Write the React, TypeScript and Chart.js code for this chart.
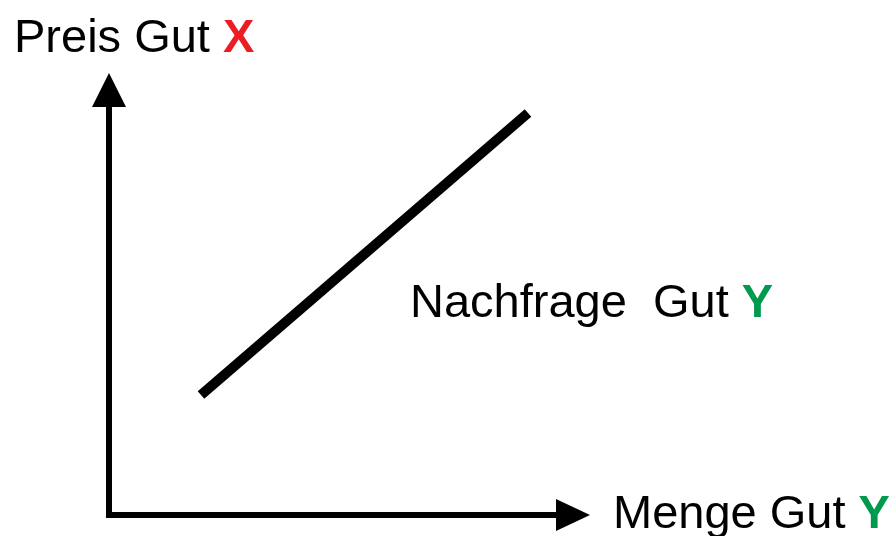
import React, { useEffect, useRef } from "react";
import { Chart, registerables } from "chart.js";

Chart.register(...registerables);

// Demand curve (quantity of good Y vs. price of good X)
const demandQuantity = [9.2, 41.9];
const demandPrice = [12, 40.2];

// Axis extents (value units)
const axisOrigin = [0, 0];
const yAxisTip = 44.2;
const xAxisTip = 48.1;
const arrowLen = 3.4;

// Labels
const yAxisLabel = ["Preis Gut ", "X"];
const xAxisLabel = ["Menge Gut ", "Y"];
const curveLabel = ["Nachfrage  Gut ", "Y"];
const yLabelPos = [-9.5, 46.3];
const xLabelPos = [50.4, -1.3];
const curveLabelPos = [30.1, 19.8];

const RED = "#EC1C24";
const GREEN = "#009A4E";
const FONT = '"Liberation Sans", Arial, sans-serif';

export default function App() {
  const ref = useRef<HTMLCanvasElement>(null);

  useEffect(() => {
    const canvas = ref.current;
    if (!canvas) return;

    const drawLabel = (
      ctx: CanvasRenderingContext2D,
      x: number,
      y: number,
      parts: string[],
      accent: string
    ) => {
      ctx.save();
      ctx.textBaseline = "alphabetic";
      ctx.textAlign = "left";
      ctx.font = `47px ${FONT}`;
      ctx.fillStyle = "#000";
      ctx.fillText(parts[0], x, y);
      const w = ctx.measureText(parts[0]).width;
      ctx.font = `bold 47px ${FONT}`;
      ctx.fillStyle = accent;
      ctx.fillText(parts[1], x + w, y);
      ctx.restore();
    };

    const overlay = {
      id: "overlay",
      afterDatasetsDraw(chart: any) {
        const ctx = chart.ctx as CanvasRenderingContext2D;
        const xs = chart.scales.x;
        const ys = chart.scales.y;
        const px = (v: number) => xs.getPixelForValue(v);
        const py = (v: number) => ys.getPixelForValue(v);
        ctx.save();
        ctx.fillStyle = "#000";
        // vertical arrow head
        const vx = px(axisOrigin[0]);
        const vTip = py(yAxisTip);
        const vBase = py(yAxisTip - arrowLen);
        ctx.beginPath();
        ctx.moveTo(vx, vTip);
        ctx.lineTo(vx - 17, vBase);
        ctx.lineTo(vx + 17, vBase);
        ctx.closePath();
        ctx.fill();
        // horizontal arrow head
        const hy = py(axisOrigin[1]);
        const hTip = px(xAxisTip);
        const hBase = px(xAxisTip - arrowLen);
        ctx.beginPath();
        ctx.moveTo(hTip, hy);
        ctx.lineTo(hBase, hy - 16);
        ctx.lineTo(hBase, hy + 16);
        ctx.closePath();
        ctx.fill();
        ctx.restore();

        drawLabel(ctx, px(yLabelPos[0]), py(yLabelPos[1]), yAxisLabel, RED);
        drawLabel(ctx, px(xLabelPos[0]), py(xLabelPos[1]), xAxisLabel, GREEN);
        drawLabel(ctx, px(curveLabelPos[0]), py(curveLabelPos[1]), curveLabel, GREEN);
      },
    };

    const chart = new Chart(canvas, {
      type: "scatter",
      data: {
        datasets: [
          {
            data: demandQuantity.map((q, i) => ({ x: q, y: demandPrice[i] })),
            showLine: true,
            borderColor: "#000",
            borderWidth: 10,
            borderCapStyle: "butt",
            pointRadius: 0,
            clip: false,
          } as any,
          {
            data: [
              { x: axisOrigin[0], y: -0.3 },
              { x: axisOrigin[0], y: yAxisTip - arrowLen + 0.1 },
            ],
            showLine: true,
            borderColor: "#000",
            borderWidth: 6,
            borderCapStyle: "butt",
            pointRadius: 0,
            clip: false,
          } as any,
          {
            data: [
              { x: -0.3, y: axisOrigin[1] },
              { x: xAxisTip - arrowLen + 0.1, y: axisOrigin[1] },
            ],
            showLine: true,
            borderColor: "#000",
            borderWidth: 6,
            borderCapStyle: "butt",
            pointRadius: 0,
            clip: false,
          } as any,
        ],
      },
      options: {
        animation: false,
        responsive: false,
        devicePixelRatio: 1,
        layout: { padding: 0 },
        plugins: {
          legend: { display: false },
          tooltip: { enabled: false },
        },
        scales: {
          x: { type: "linear", min: -10.9, max: 78.7, display: false },
          y: { type: "linear", min: -2.1, max: 51.5, display: false },
        },
      },
      plugins: [overlay],
    });

    return () => chart.destroy();
  }, []);

  return (
    <div style={{ position: "fixed", left: 0, top: 0, width: 896, height: 536, background: "#fff" }}>
      <canvas ref={ref} width={896} height={536} style={{ width: 896, height: 536, display: "block" }} />
    </div>
  );
}
